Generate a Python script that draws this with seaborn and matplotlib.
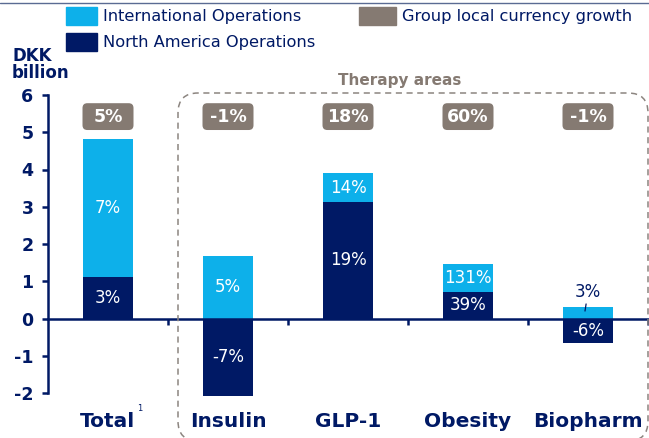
import numpy as np
import pandas as pd
import matplotlib.pyplot as plt
import seaborn as sns
from matplotlib.patches import FancyBboxPatch, Rectangle
from matplotlib.lines import Line2D

# Sales growth contribution, DKK billion
areas = ["Total", "Insulin", "GLP-1", "Obesity", "Biopharm"]
north_america = [1.11, -2.07, 3.12, 0.70, -0.65]
international = [3.71, 1.69, 0.78, 0.76, 0.30]
na_growth = ["3%", "-7%", "19%", "39%", "-6%"]
intl_growth = ["7%", "5%", "14%", "131%", "3%"]
group_growth = ["5%", "-1%", "18%", "60%", "-1%"]

LIGHT = "#0db0ea"
NAVY = "#001965"
GREY = "#857a72"
W, H = 649, 438

df = pd.DataFrame({"area": areas, "na": north_america, "intl": international})
df["base"] = df["na"].clip(lower=0)
df["top"] = df["base"] + df["intl"]

sns.set_theme(style="white")
plt.rcParams["font.family"] = ["DejaVu Sans"]
plt.rcParams["axes.unicode_minus"] = False

fig = plt.figure(figsize=(W / 100, H / 100), dpi=100)
# y: 6 -> 95 px, -2 -> 393 px, lower limit a bit below -2 so the insulin bar fits
ymin = -2.12
ax = fig.add_axes([48 / W, 1 - (393 + 0.12 * 37.25) / H, 600 / W,
                   (298 + 0.12 * 37.25) / H])

# international stacked on top of (positive) north america
sns.barplot(data=df, x="area", y="top", order=areas, color=LIGHT, saturation=1,
            width=0.41, errorbar=None, linewidth=0, ax=ax, zorder=2)
sns.barplot(data=df, x="area", y="na", order=areas, color=NAVY, saturation=1,
            width=0.41, errorbar=None, linewidth=0, ax=ax, zorder=3)

ax.set_xlim(-0.5, 4.5)
ax.set_ylim(ymin, 6)
ax.set_xlabel("")
ax.set_ylabel("")

# segment labels
for i, row in df.iterrows():
    ax.text(i, row["na"] / 2, na_growth[i], color="white", fontsize=12,
            ha="center", va="center", zorder=5)
    if row["intl"] > 0.5:
        ax.text(i, row["base"] + row["intl"] / 2, intl_growth[i], color="white",
                fontsize=12, ha="center", va="center", zorder=5)
    else:
        ax.annotate(intl_growth[i], xy=(i - 0.025, row["top"] - 0.1),
                    xytext=(i, row["top"] + 0.42), color=NAVY, fontsize=12,
                    ha="center", va="center", zorder=5,
                    arrowprops=dict(arrowstyle="-", color=NAVY, lw=0.9,
                                    shrinkA=6, shrinkB=0))

# group growth boxes
for i, g in enumerate(group_growth):
    box = FancyBboxPatch((i - 0.2125, 5.42 - 0.36), 0.425, 0.72,
                         boxstyle="round,pad=0,rounding_size=0.04",
                         mutation_aspect=3.22, facecolor=GREY, edgecolor="none",
                         zorder=4)
    ax.add_patch(box)
    ax.text(i, 5.42, g, color="white", fontsize=12.5, fontweight="bold",
            ha="center", va="center", zorder=5)

# axes styling
for s in ["top", "right"]:
    ax.spines[s].set_visible(False)
ax.spines["left"].set_color(NAVY)
ax.spines["left"].set_linewidth(1.8)
ax.spines["left"].set_bounds(-2, 6)
ax.spines["bottom"].set_position(("data", 0))
ax.spines["bottom"].set_color(NAVY)
ax.spines["bottom"].set_linewidth(1.8)

ax.set_yticks(range(-2, 7))
ax.tick_params(axis="y", direction="out", length=4, width=1.8, color=NAVY,
               pad=6.5, labelsize=12.5, labelcolor=NAVY, left=True)
for lab in ax.get_yticklabels():
    lab.set_fontweight("bold")

ax.set_xticks(range(len(areas)))
ax.set_xticks(np.arange(0.5, 5, 1), minor=True)
ax.set_xticklabels(areas)
ax.tick_params(axis="x", which="major", length=0, pad=67, labelsize=14.5,
               labelcolor=NAVY)
ax.tick_params(axis="x", which="minor", direction="out", length=4, width=1.8,
               color=NAVY, bottom=True)
for lab in ax.get_xticklabels():
    lab.set_fontweight("bold")
ax.annotate("1", xy=(0, -2), xytext=(21, -11), textcoords="offset points",
            fontsize=6, color=NAVY, ha="left", va="center", annotation_clip=False)

# therapy areas frame
frame = FancyBboxPatch((178 / W, 1 - 441 / H), 470 / W, 348 / H,
                       boxstyle="round,pad=0,rounding_size=%f" % (20 / W),
                       mutation_aspect=W / H, transform=fig.transFigure,
                       fill=False, edgecolor="#8c8580", lw=1.1,
                       linestyle=(0, (4, 3)))
fig.add_artist(frame)
fig.text(400 / W, 1 - 80 / H, "Therapy areas", color=GREY, fontsize=11,
         fontweight="bold", ha="center", va="center")

# y unit label
fig.text(12 / W, 1 - 56 / H, "DKK", color=NAVY, fontsize=12, fontweight="bold",
         ha="left", va="center")
fig.text(12 / W, 1 - 73 / H, "billion", color=NAVY, fontsize=12,
         fontweight="bold", ha="left", va="center")

# legend drawn by hand to match the slide layout
legend_items = [(66, 7, 31, LIGHT, "International Operations"),
                (66, 33, 31, NAVY, "North America Operations"),
                (359, 7, 37, GREY, "Group local currency growth")]
for x, y, w, c, label in legend_items:
    fig.add_artist(Rectangle((x / W, 1 - (y + 18) / H), w / W, 18 / H,
                             transform=fig.transFigure, color=c))
    fig.text((x + w + 6) / W, 1 - (y + 10) / H, label, color=NAVY,
             fontsize=11.7, ha="left", va="center")

# thin slide rule at the top
fig.add_artist(Line2D([0, 1], [1 - 3 / H, 1 - 3 / H], transform=fig.transFigure,
                      color="#5a6b93", lw=1))

fig.savefig("out.png", dpi=100)
